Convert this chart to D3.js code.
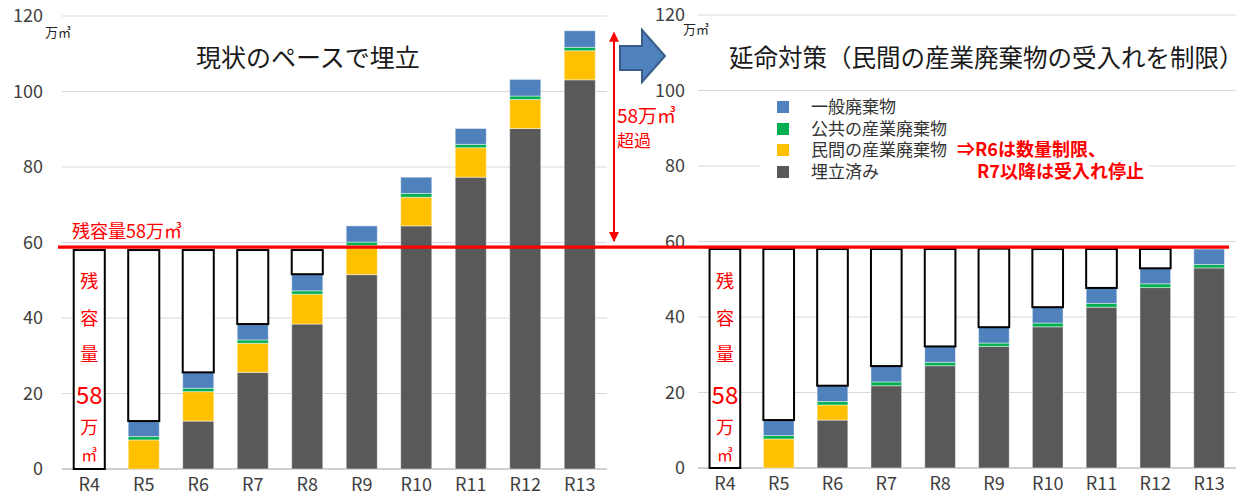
<!DOCTYPE html>
<html><head><meta charset="utf-8">
<script src="https://cdn.jsdelivr.net/npm/d3@7/dist/d3.min.js"></script>
<style>body{margin:0;background:#fff}svg{display:block}text{font-family:"Noto Sans CJK JP","Noto Sans",sans-serif}</style>
</head><body><svg id="c" width="1256" height="495"></svg>
<script>
const categories = ["R4","R5","R6","R7","R8","R9","R10","R11","R12","R13"];
const yTicks = [0,20,40,60,80,100,120];
const seriesNames = ["一般廃棄物","公共の産業廃棄物","民間の産業廃棄物","埋立済み"];
const seriesColors = ["#4F81BD","#00B050","#FFC000","#595959"];
const capacity = 58;
// Left: current pace
const leftLandfilled = [0,0,12.7,25.6,38.4,51.5,64.4,77.3,90.2,103.1];
const leftPrivate    = [0,7.7,7.8,7.7,7.9,7.7,7.6,7.8,7.7,7.7];
const leftPublic     = [0,0.9,0.9,0.9,0.9,0.9,1.0,0.9,0.9,0.9];
const leftGeneral    = [0,4.1,4.2,4.2,4.4,4.3,4.3,4.2,4.4,4.4];
const leftRemaining  = [58,45.3,32.4,19.6,6.4,0,0,0,0,0];
// Right: life extension
const rightLandfilled = [0,0,12.7,21.8,27.1,32.2,37.4,42.6,47.8,53.0];
const rightPrivate    = [0,7.7,4.0,0,0,0,0,0,0,0];
const rightPublic     = [0,0.9,0.9,1.0,0.9,0.9,1.0,1.0,1.0,0.9];
const rightGeneral    = [0,4.1,4.2,4.2,4.2,4.2,4.2,4.1,4.1,4.1];
const rightRemaining  = [58,45.3,36.2,31.0,25.8,20.8,15.4,10.3,5.1,0];

const svg = d3.select("#c");
const keys = ["landfilled","private","public","general","remaining"];
const keyColor = {landfilled:seriesColors[3], private:seriesColors[2], public:seriesColors[1], general:seriesColors[0]};

function panel(cfg){
  const x = d3.scaleBand().domain(categories).range([cfg.x0,cfg.x1]).paddingInner(0.43).paddingOuter(0.215);
  const y = d3.scaleLinear().domain([0,120]).range([cfg.yb,cfg.yt]);
  const g = svg.append("g");
  g.selectAll("line.grid").data(yTicks).join("line")
    .attr("x1",cfg.x0).attr("x2",cfg.x1)
    .attr("y1",d=>y(d)).attr("y2",d=>y(d))
    .attr("stroke",d=>d===0?"#d0d0d0":"#d9d9d9").attr("stroke-width",d=>d===0?2:1.2);
  const ya = d3.axisLeft(y).tickValues(yTicks).tickSize(0).tickPadding(cfg.x0-cfg.labelX);
  const yg = g.append("g").attr("transform",`translate(${cfg.x0},0)`).call(ya);
  yg.select(".domain").remove();
  yg.selectAll("text").attr("font-size",18).attr("fill","#404040").style("font-family","'Noto Sans CJK JP',sans-serif");
  const xa = d3.axisBottom(x).tickSize(0).tickPadding(9);
  const xg = g.append("g").attr("transform",`translate(0,${cfg.yb})`).call(xa);
  xg.select(".domain").remove();
  xg.selectAll("text").attr("font-size",18).attr("fill","#404040").style("font-family","'Noto Sans CJK JP',sans-serif");
  const rows = categories.map((c,i)=>({cat:c, landfilled:cfg.d[0][i], private:cfg.d[1][i], public:cfg.d[2][i], general:cfg.d[3][i], remaining:cfg.d[4][i]}));
  const stack = d3.stack().keys(keys)(rows);
  stack.forEach(layer=>{
    const isRem = layer.key==="remaining";
    g.append("g").selectAll("rect").data(layer.filter(d=>d[1]-d[0]>0)).join("rect")
      .attr("x",d=>x(d.data.cat)).attr("width",x.bandwidth())
      .attr("y",d=>y(d[1])).attr("height",d=>y(d[0])-y(d[1]))
      .attr("fill",isRem?"#fff":keyColor[layer.key])
      .attr("stroke",isRem?"#000":"rgba(255,255,255,0.45)")
      .attr("stroke-width",isRem?2:1);
  });
  g.append("text").attr("x",cfg.unitX).attr("y",cfg.unitY).attr("font-size",13).attr("fill","#222").text("万㎥");
  g.append("text").attr("x",cfg.titleX).attr("y",67).attr("font-size",cfg.titleSize).attr("fill","#1a1a1a").text(cfg.title);
  const cx = x("R4")+x.bandwidth()/2;
  const vt = [["残",288,18],["容",325,18],["量",361,18],["58",404,24],["万",434,18],["㎥",461,16]];
  g.selectAll("text.vt").data(vt).join("text").attr("class","vt")
    .attr("x",cx).attr("y",d=>d[1]).attr("text-anchor","middle")
    .attr("font-size",d=>d[2]).attr("fill","#ff0000").text(d=>d[0]);
  return {x,y};
}

const L = panel({x0:62,x1:607,yb:469,yt:16,labelX:43,unitX:45,unitY:37,titleX:196,titleSize:25,title:"現状のペースで埋立",
  d:[leftLandfilled,leftPrivate,leftPublic,leftGeneral,leftRemaining]});
const R = panel({x0:698,x1:1236,yb:468,yt:15,labelX:685,unitX:683,unitY:34,titleX:729,titleSize:24.5,title:"延命対策（民間の産業廃棄物の受入れを制限）",
  d:[rightLandfilled,rightPrivate,rightPublic,rightGeneral,rightRemaining]});

svg.append("rect").attr("x",760).attr("y",93).attr("width",247).attr("height",88).attr("fill","#fff");
svg.append("rect").attr("x",955).attr("y",140).attr("width",193).attr("height",44).attr("fill","#fff");
const lg = svg.append("g");
const lgY = [107,129,150,172];
seriesNames.forEach((n,i)=>{
  lg.append("rect").attr("x",777).attr("y",lgY[i]-6).attr("width",12).attr("height",12).attr("fill",seriesColors[i]);
  lg.append("text").attr("x",811).attr("y",lgY[i]+6).attr("font-size",17).attr("fill","#333").text(n);
});
svg.append("text").attr("x",957).attr("y",156).attr("font-size",18).attr("font-weight","bold").attr("fill","#ff0000").text("⇒R6は数量制限、");
svg.append("text").attr("x",977).attr("y",178).attr("font-size",18).attr("font-weight","bold").attr("fill","#ff0000").text("R7以降は受入れ停止");

const capY = L.y(capacity)-3;
svg.append("line").attr("x1",58).attr("x2",1229).attr("y1",capY).attr("y2",capY).attr("stroke","#ff0000").attr("stroke-width",3.2);
svg.append("text").attr("x",72).attr("y",238).attr("font-size",18).attr("fill","#ff0000").text("残容量58万㎥");

const defs = svg.append("defs");
defs.append("marker").attr("id","ah").attr("viewBox","0 0 10 10").attr("refX",9).attr("refY",5)
  .attr("markerWidth",5).attr("markerHeight",5).attr("orient","auto-start-reverse")
  .append("path").attr("d","M0,0 L10,5 L0,10 z").attr("fill","#ff0000");
svg.append("line").attr("x1",614).attr("x2",614).attr("y1",L.y(116.1)+2).attr("y2",capY-6)
  .attr("stroke","#ff0000").attr("stroke-width",2).attr("marker-start","url(#ah)").attr("marker-end","url(#ah)");
svg.append("text").attr("x",617).attr("y",123).attr("font-size",19).attr("fill","#ff0000").text("58万㎥");
svg.append("text").attr("x",617).attr("y",147).attr("font-size",17).attr("fill","#ff0000").text("超過");

svg.append("path").attr("d","M620,46 L642,46 L642,30 L665,56 L642,82 L642,70 L620,70 Z")
  .attr("fill","#4F81BD").attr("stroke","#385D8A").attr("stroke-width",2);
</script></body></html>
